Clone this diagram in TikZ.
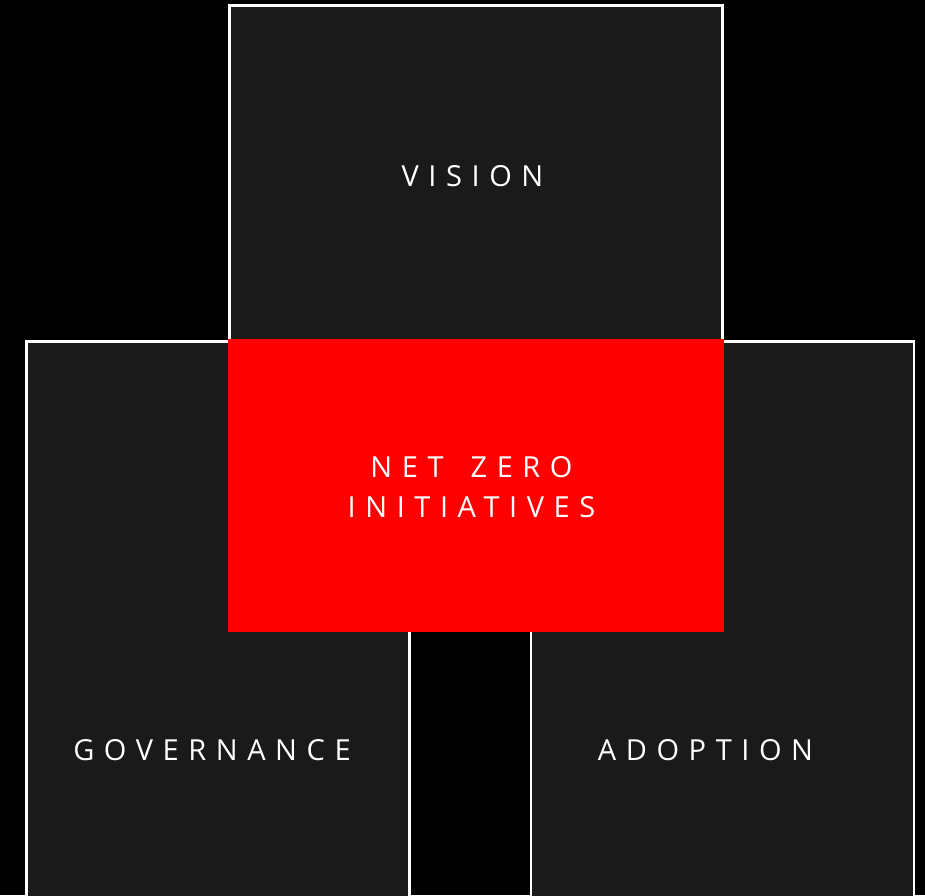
\documentclass[tikz,border=0pt]{standalone}
\usepackage{fontspec}
\setmainfont{Open Sans}[LetterSpace=33]
\definecolor{boxgray}{HTML}{1A1A1A}
\definecolor{nzred}{HTML}{FF0000}
\begin{document}
\begin{tikzpicture}[x=1pt,y=-1pt,
  panel/.style={draw=white,line width=2.2pt,fill=boxgray},
  lbl/.style={text=white,font=\fontsize{29}{40}\selectfont,align=center,inner sep=0pt}]
\useasboundingbox (0,0) rectangle (925,895);
\fill[black] (0,0) rectangle (925,895);
\clip (0,0) rectangle (925,895);
\draw[panel] (229.5,5.5) rectangle (722.5,340.5);
\draw[panel] (26.5,341.5) rectangle (409.5,905);
\draw[panel] (531,341.5) rectangle (914,905);
\fill[nzred] (228,339) rectangle (724,632);
\node[lbl] (vision) at (472.5,176) {VISION};
\node[lbl] (netzero) at (471.5,487) {NET\hspace{10pt} ZERO\\INITIATIVES};
\node[lbl] (gov) at (212,750) {GOVERNANCE};
\node[lbl] (adopt) at (705.5,750) {ADOPTION};
\end{tikzpicture}
\end{document}
